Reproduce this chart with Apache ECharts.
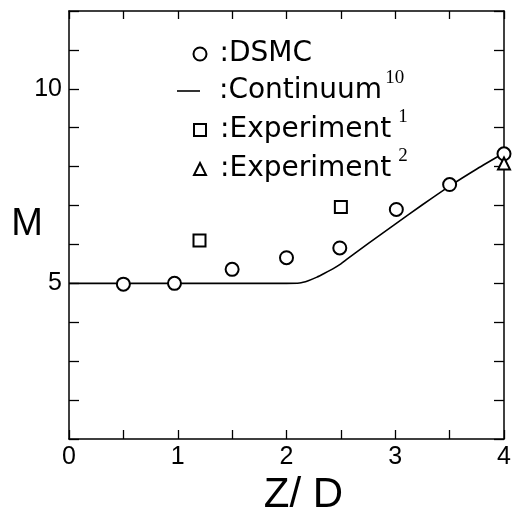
<!DOCTYPE html>
<html>
<head>
<meta charset="utf-8">
<script src="https://cdn.jsdelivr.net/npm/echarts@6/dist/echarts.min.js"></script>
<style>
  html, body { margin: 0; padding: 0; background: #fff; }
  #chart { width: 513px; height: 513px; }
</style>
</head>
<body>
<div id="chart"></div>
<script>
// DSMC results: Mach number M along the axis Z/D
const dsmcZ = [0.5, 0.97, 1.5, 2.0, 2.49, 3.01, 3.5, 4.0];
const dsmcM = [4.98, 5.0, 5.36, 5.66, 5.91, 6.9, 7.54, 8.33];

// Continuum solution (ref. 10)
const contZ = [0, 0.5, 1.0, 1.5, 2.0, 2.12, 2.2, 2.28, 2.35, 2.43, 2.5, 2.55, 2.75, 3.0, 3.25, 3.5, 3.75, 4.0];
const contM = [5, 5, 5, 5, 5.0, 5.01, 5.07, 5.16, 5.26, 5.38, 5.5, 5.61, 6.02, 6.52, 7.02, 7.5, 7.94, 8.35];

// Experiment (ref. 1)
const exp1Z = [1.2, 2.5];
const exp1M = [6.1, 6.96];

// Experiment (ref. 2)
const exp2Z = [4.0];
const exp2M = [8.08];

// Axis tick labels
const xTickLabels = [0, 1, 2, 3, 4];
const yTickLabels = [5, 10];

const zip = (xs, ys) => xs.map((x, i) => [x, ys[i]]);

const SANS = '"Liberation Sans", Arial, Helvetica, sans-serif';
const LEG = '"DejaVu Sans", "Liberation Sans", sans-serif';
const SERIF = '"Liberation Serif", "Times New Roman", serif';
const BLACK = '#000';

const axisLine = { show: true, onZero: false, lineStyle: { color: BLACK, width: 1.5 } };
const tickStyle = { color: BLACK, width: 1.3 };

// One legend block per row so each marker and its label can be placed freely
function legendRow(name, left, top, iconW, iconH, label, sup, textPad, supPad, lineH, icon) {
  const row = {
    data: [name],
    left: left,
    top: top,
    padding: 0,
    itemWidth: iconW,
    itemHeight: iconH,
    selectedMode: false,
    formatter: () => sup ? '{t|' + label + '}{s|' + sup + '}' : '{t|' + label + '}',
    textStyle: {
      color: BLACK,
      rich: {
        t: { fontFamily: LEG, fontSize: 28, color: BLACK, lineHeight: lineH, padding: [0, 0, 0, textPad] },
        s: { fontFamily: SERIF, fontSize: 19, color: BLACK, verticalAlign: 'top', padding: [0, 0, 0, supPad] }
      }
    }
  };
  if (icon) {
    row.icon = icon;
    row.itemStyle = { color: BLACK, borderWidth: 0 };
  }
  return row;
}

const chart = echarts.init(document.getElementById('chart'), null, { renderer: 'canvas' });

chart.setOption({
  animation: false,
  backgroundColor: '#fff',
  grid: { left: 69, right: 9, top: 11, bottom: 74, containLabel: false, outerBoundsMode: 'none' },
  legend: [
    legendRow('DSMC', 192.5, 40, 13, 13, ':DSMC', '', 8, 0, 30),
    legendRow('Continuum', 177, 69, 23, 1.6, ':Continuum', '10', 14, 3, 44, 'rect'),
    legendRow('Experiment1', 193, 108, 12, 12, ':Experiment', '1', 9, 7, 44),
    legendRow('Experiment2', 193, 147, 12, 12, ':Experiment', '2', 9, 7, 44)
  ],
  xAxis: [
    {
      type: 'value', position: 'bottom', min: 0, max: 4, interval: 0.5,
      axisLine: axisLine,
      axisTick: { show: true, inside: true, length: 9, lineStyle: tickStyle },
      axisLabel: {
        color: BLACK, fontFamily: SANS, fontSize: 25, margin: 6,
        formatter: v => xTickLabels.includes(v) ? String(v) : ''
      },
      splitLine: { show: false },
      name: 'Z/ D', nameLocation: 'middle', nameGap: 35, nameMoveOverlap: false,
      nameTextStyle: { color: BLACK, fontFamily: SANS, fontSize: 42, padding: [0, 0, 0, 34] }
    },
    {
      type: 'value', position: 'top', min: 0, max: 4, interval: 0.5,
      axisLine: axisLine,
      axisTick: { show: true, inside: true, length: 8, lineStyle: tickStyle },
      axisLabel: { show: false },
      splitLine: { show: false }
    }
  ],
  yAxis: [
    {
      type: 'value', position: 'left', min: 1, max: 12, interval: 1,
      axisLine: axisLine,
      axisTick: { show: true, inside: true, length: 10, lineStyle: tickStyle },
      axisLabel: {
        color: BLACK, fontFamily: SANS, fontSize: 25, margin: 7,
        formatter: v => yTickLabels.includes(v) ? String(v) : ''
      },
      splitLine: { show: false },
      name: 'M', nameLocation: 'middle', nameRotate: 0, nameGap: 26, nameMoveOverlap: false,
      nameTextStyle: { color: BLACK, fontFamily: SANS, fontSize: 38, padding: [10, 0, 0, 0] }
    },
    {
      type: 'value', position: 'right', min: 1, max: 12, interval: 1,
      axisLine: axisLine,
      axisTick: { show: true, inside: true, length: 10, lineStyle: tickStyle },
      axisLabel: { show: false },
      splitLine: { show: false }
    }
  ],
  series: [
    {
      name: 'Continuum', type: 'line', data: zip(contZ, contM),
      symbol: 'none', showSymbol: false, smooth: 0.25,
      lineStyle: { color: BLACK, width: 1.6 },
      itemStyle: { color: BLACK },
      z: 2
    },
    {
      name: 'DSMC', type: 'scatter', data: zip(dsmcZ, dsmcM),
      symbol: 'emptyCircle', symbolSize: 13,
      itemStyle: { color: BLACK, borderColor: BLACK, borderWidth: 1.5, opacity: 1 },
      z: 3
    },
    {
      name: 'Experiment1', type: 'scatter', data: zip(exp1Z, exp1M),
      symbol: 'emptyRect', symbolSize: 12,
      itemStyle: { color: BLACK, borderColor: BLACK, borderWidth: 1.4, opacity: 1 },
      z: 3
    },
    {
      name: 'Experiment2', type: 'scatter', data: zip(exp2Z, exp2M),
      symbol: 'emptyTriangle', symbolSize: 12,
      itemStyle: { color: BLACK, borderColor: BLACK, borderWidth: 1.4, opacity: 1 },
      z: 4
    }
  ]
});
</script>
</body>
</html>
